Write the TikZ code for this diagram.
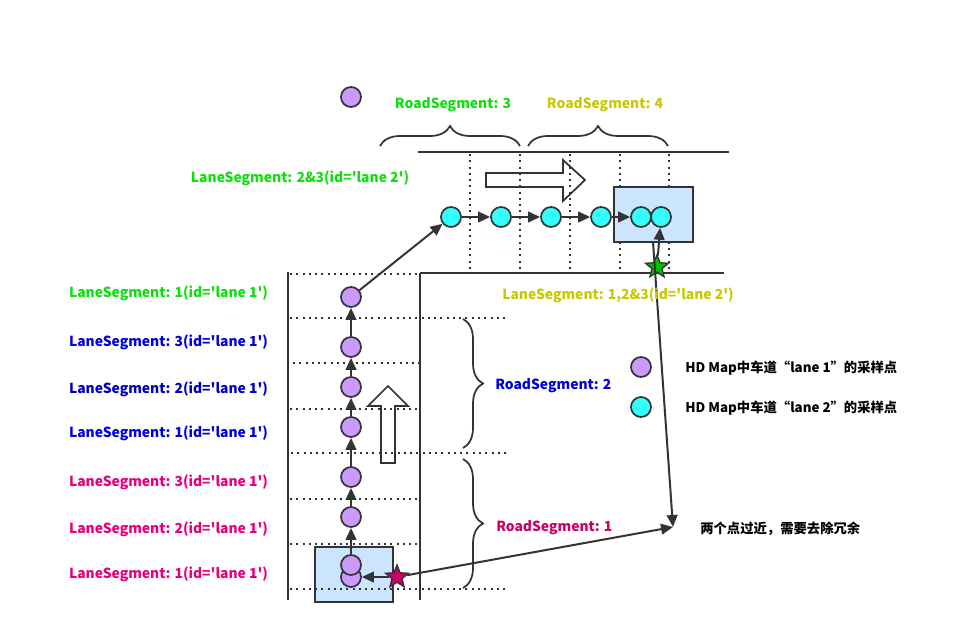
\documentclass[tikz,border=0pt]{standalone}
\usepackage{fontspec}
\setmainfont{Noto Sans CJK SC}[Ligatures=TeXOff]
\usetikzlibrary{arrows.meta,shapes.geometric,decorations.pathreplacing}
\definecolor{ink}{HTML}{333333}
\definecolor{lgreen}{HTML}{11DD11}
\definecolor{lolive}{HTML}{C8C800}
\definecolor{lblue}{HTML}{0000DD}
\definecolor{lblueb}{HTML}{0000BB}
\definecolor{lmag}{HTML}{E6007A}
\definecolor{lmagb}{HTML}{CC0066}
\definecolor{purp}{HTML}{CC99FF}
\definecolor{cyanf}{HTML}{33FFFF}
\definecolor{boxf}{HTML}{CCE5FF}
\tikzset{
  solidln/.style={draw=ink,line width=1.6pt},
  dotln/.style={draw=ink,line width=1.5pt,dash pattern=on 1.5pt off 3.2pt},
  arr/.style={draw=ink,line width=1.5pt,-{Triangle[length=9pt,width=8pt]}},
  ptp/.style={circle,draw=ink,line width=1.3pt,fill=purp,minimum size=15pt,inner sep=0},
  ptc/.style={circle,draw=ink,line width=1.3pt,fill=cyanf,minimum size=15pt,inner sep=0},
  hbox/.style={draw=ink,line width=1.3pt,fill=boxf},
  hollow/.style={draw=ink,line width=1.3pt,fill=white},
  brc/.style={draw=ink,line width=1.3pt,decorate,decoration={brace,amplitude=15pt}},
  lbl/.style={inner sep=0,yshift=-1.5pt,font=\bfseries\fontsize{10.4pt}{12pt}\selectfont},
  lblz/.style={inner sep=0,yshift=-1pt,font=\bfseries\fontsize{10pt}{12pt}\selectfont},
  starn/.style={star,star points=5,star point ratio=2.3,draw=ink,line width=1pt,minimum size=18pt,inner sep=0},
}
\begin{document}
\begin{tikzpicture}[x=0.75pt,y=-0.75pt]
\useasboundingbox (0,0) rectangle (955,634);
% hollow arrows
\path[hollow] (381,463) -- (381,406) -- (368,406) -- (388,386) -- (408,406) -- (395,406) -- (395,463) -- cycle;
\path[hollow] (486,173) -- (563,173) -- (563,160) -- (585,180) -- (563,201) -- (563,187) -- (486,187) -- cycle;
% bottom box
\path[hbox] (315,547) rectangle (393,602);
% solid lines
\draw[solidln] (288,272) -- (288,600);
\draw[solidln] (420,273) -- (420,600);
\draw[solidln] (420,273) -- (724,273);
\draw[solidln] (418,152) -- (729,152);
% dotted horizontal
\draw[dotln] (290,274) -- (420,274);
\draw[dotln] (290,318) -- (507,318);
\draw[dotln] (293,363) -- (420,363);
\draw[dotln] (290,409) -- (420,409);
\draw[dotln] (291,453) -- (508,453);
\draw[dotln] (290,499) -- (420,499);
\draw[dotln] (290,544) -- (420,544);
\draw[dotln] (290,589) -- (505,589);
% dotted vertical
\foreach \xx in {470,520,570,620,669} \draw[dotln] (\xx,154) -- (\xx,271);
% top box
\path[hbox] (614,187) rectangle (693,242);
% braces
\draw[brc] (380,146) -- (520,146);
\draw[brc] (528,146) -- (668,146);
\draw[brc] (463,319) -- (463,448);
\draw[brc] (463,459) -- (463,588);
% purple points
\node[ptp] (p0) at (351,97) {};
\node[ptp] (lp8) at (351,577) {};
\node[ptp] (lp7) at (351,565) {};
\node[ptp] (lp6) at (351,517) {};
\node[ptp] (lp5) at (351,477) {};
\node[ptp] (lp4) at (351,427) {};
\node[ptp] (lp3) at (351,387) {};
\node[ptp] (lp2) at (351,347) {};
\node[ptp] (lp1) at (351,297) {};
% cyan points
\node[ptc] (c1) at (451,217) {};
\node[ptc] (c2) at (501,217) {};
\node[ptc] (c3) at (551,217) {};
\node[ptc] (c4) at (601,217) {};
\node[ptc] (c5) at (641,217) {};
\node[ptc] (c6) at (661,217) {};
% arrows
\draw[arr] (lp7) -- (lp6);
\draw[arr] (lp6) -- (lp5);
\draw[arr] (lp5) -- (lp4);
\draw[arr] (lp4) -- (lp3);
\draw[arr] (lp3) -- (lp2);
\draw[arr] (lp2) -- (lp1);
\draw[arr] (lp1) -- (c1);
\draw[arr] (c1) -- (c2);
\draw[arr] (c2) -- (c3);
\draw[arr] (c3) -- (c4);
\draw[arr] (c4) -- (c5);
% stars
\coordinate (m) at (673,527);
\coordinate (g0) at (653,242);
\node[starn,fill=lmagb] (s1) at (397,577) {};
\node[starn,fill=green!75!black] (s2) at (657,267) {};
\draw[arr] (s1) -- (lp8);
\draw[arr] (s2) -- (c6);
\draw[arr] (s1) -- (m);
\draw[arr] (g0) -- (m);
% legend
\node[ptp] (k1) at (641,367) {};
\node[ptc] (k2) at (641,407) {};
\node[lblz,anchor=west] (t1) at (685,367) {HD Map中车道“lane 1”的采样点};
\node[lblz,anchor=west] (t2) at (685,407) {HD Map中车道“lane 2”的采样点};
\node[lblz,anchor=west] (t3) at (700,527) {两个点过近，需要去除冗余};
% labels
\node[lbl,text=lgreen] (r3) at (453,103) {RoadSegment: 3};
\node[lbl,text=lolive] (r4) at (605,103) {RoadSegment: 4};
\node[lbl,text=lblue,anchor=west] (r2) at (495,384) {RoadSegment: 2};
\node[lbl,text=lmagb,anchor=west] (r1) at (496,526) {RoadSegment: 1};
\node[lbl,text=lgreen] (l23) at (300,176) {LaneSegment: 2\&3(id='lane 2')};
\node[lbl,text=lolive] (l123) at (618,293) {LaneSegment: 1,2\&3(id='lane 2')};
\node[lbl,text=lgreen] (a1) at (168.5,291) {LaneSegment: 1(id='lane 1')};
\node[lbl,text=lblue] (b3) at (168.5,340) {LaneSegment: 3(id='lane 1')};
\node[lbl,text=lblueb] (b2) at (168.5,387) {LaneSegment: 2(id='lane 1')};
\node[lbl,text=lblue] (b1) at (168.5,431) {LaneSegment: 1(id='lane 1')};
\node[lbl,text=lmag] (m3) at (168.5,480) {LaneSegment: 3(id='lane 1')};
\node[lbl,text=lmag] (m2) at (168.5,527) {LaneSegment: 2(id='lane 1')};
\node[lbl,text=lmag] (m1) at (168.5,572) {LaneSegment: 1(id='lane 1')};
\end{tikzpicture}
\end{document}
